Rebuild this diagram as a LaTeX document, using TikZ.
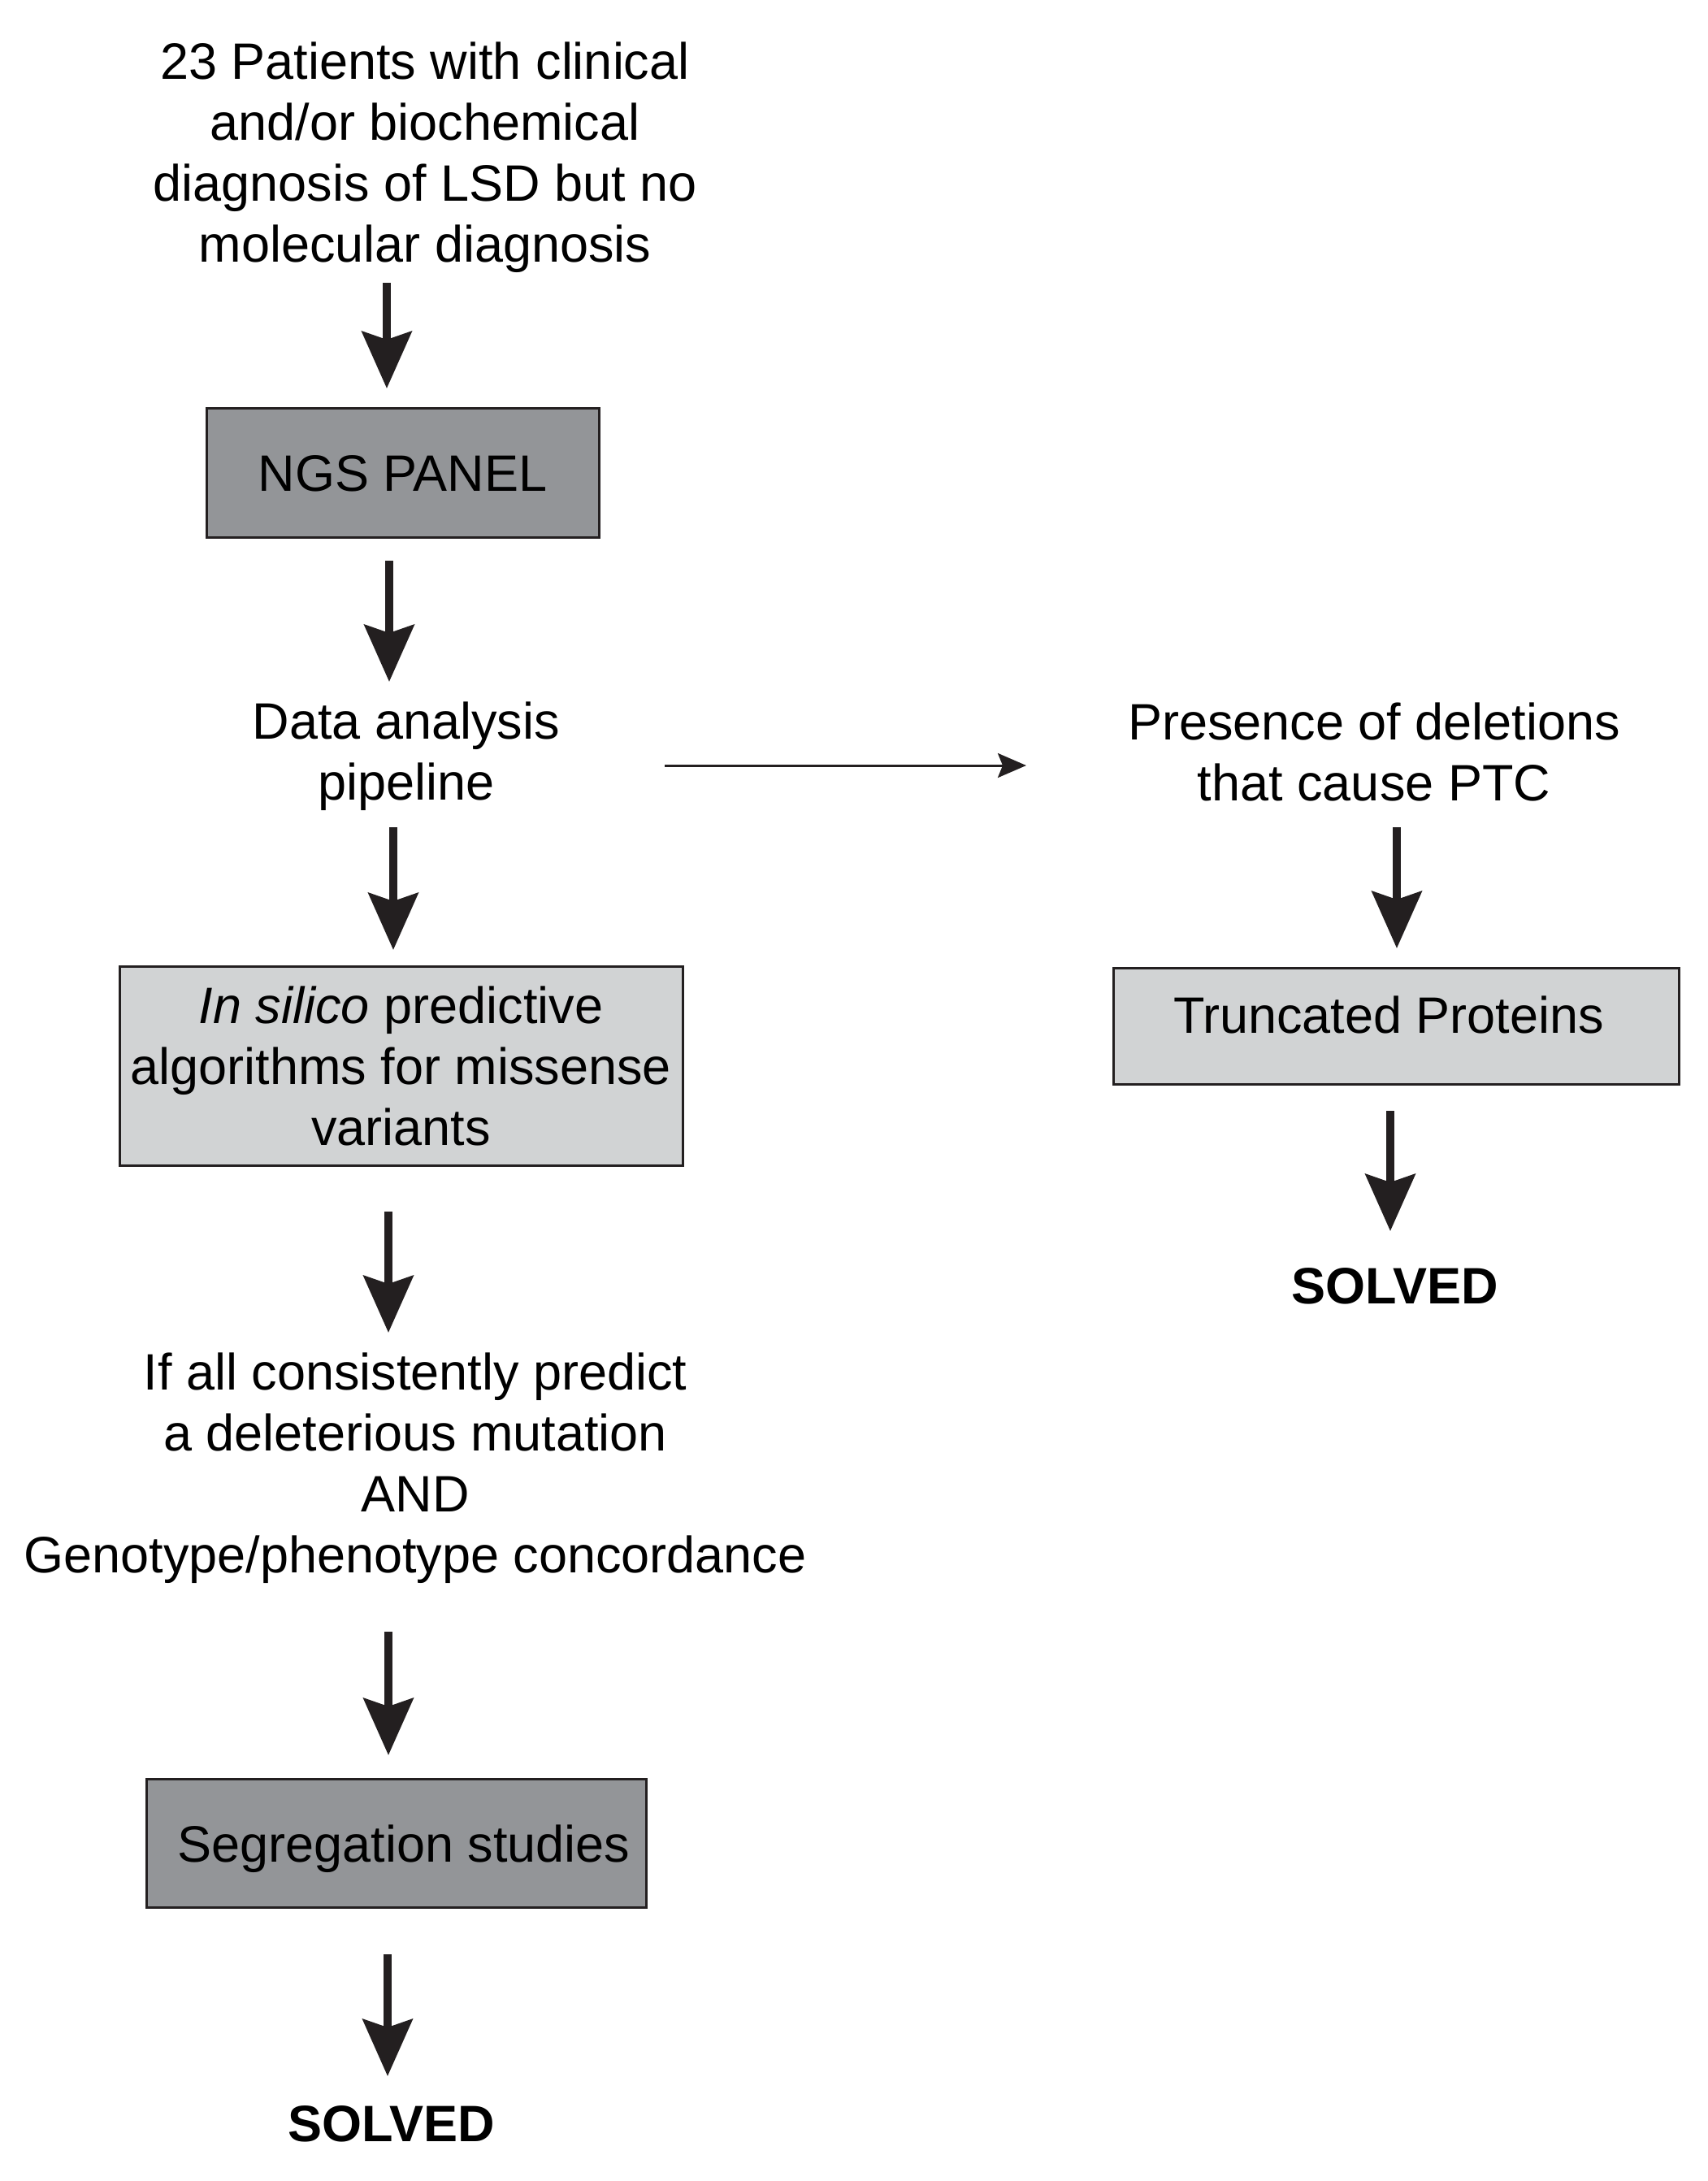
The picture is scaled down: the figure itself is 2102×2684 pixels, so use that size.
\documentclass[tikz,border=0pt]{standalone}
\usepackage{fontspec}
\setmainfont{Liberation Sans}
\usetikzlibrary{arrows.meta}
\definecolor{ink}{HTML}{231F20}
\definecolor{darkfill}{HTML}{939598}
\definecolor{lightfill}{HTML}{D1D3D4}
\begin{document}
\begin{tikzpicture}[x=0.5pt,y=-0.5pt,
  txt/.style={font=\fontsize{31.5pt}{37.5pt}\selectfont, align=center, inner sep=0pt, text=black},
  boxbase/.style={txt, draw=ink, line width=1.5pt, text height=22.5pt, text depth=0pt},
  darkbox/.style={boxbase, fill=darkfill},
  lightbox/.style={boxbase, fill=lightfill},
  solvedtxt/.style={txt, font=\fontsize{31.5pt}{37.5pt}\selectfont\bfseries, text height=22.5pt, text depth=0pt},
  bigarr/.style={draw=ink, line width=5pt, -{Stealth[length=35pt,width=30.5pt,inset=5pt,color=ink]}},
  thinarr/.style={draw=ink, line width=1.5pt, -{Stealth[length=17.5pt,width=15pt,inset=3pt,color=ink]}}]
\useasboundingbox (0,0) rectangle (2102,2684);

% nodes
\node[txt] (top) at (523,193.5) {23 Patients with clinical\\and/or biochemical\\diagnosis of LSD but no\\molecular diagnosis};
\node[darkbox, minimum width=241.5pt, minimum height=79.5pt] (ngs) at (495.5,581.5) {NGS PANEL};
\node[txt] (data) at (500,930.5) {Data analysis\\pipeline};
\node[txt] (pres) at (1691,925) {Presence of deletions\\that cause PTC};
\node[lightbox, minimum width=346.5pt, minimum height=122.5pt, text height=, text depth=] (ins) at (493.5,1311.5) {\textit{In silico} predictive\\algorithms for missense\\variants};
\node[txt] (ifall) at (511,1807) {If all consistently predict\\a deleterious mutation\\AND\\Genotype/phenotype concordance};
\node[darkbox, minimum width=307.5pt, minimum height=79pt] (seg) at (488,2268.5) {\hspace*{9pt}Segregation studies};
\node[solvedtxt] (solvedL) at (482,2613) {SOLVED};
\node[lightbox, minimum width=348pt, minimum height=71.5pt, text depth=14pt] (trunc) at (1718,1262.5) {Truncated Proteins\hspace*{9pt}};
\node[solvedtxt] (solvedR) at (1717,1582) {SOLVED};

% connectors
\draw[bigarr] ([shift={(-47,154.5)}]top.center) -- ([shift={(-19.5,-103.5)}]ngs.center);
\draw[bigarr] ([shift={(-16.5,108.5)}]ngs.center) -- ([shift={(-21,-91.5)}]data.center);
\draw[thinarr] ([shift={(318,11.5)}]data.center) -- ([shift={(-428,17)}]pres.center);
\draw[bigarr] ([shift={(-16,87.5)}]data.center) -- ([shift={(-9.5,-142.5)}]ins.center);
\draw[bigarr] ([shift={(-15.5,179.5)}]ins.center) -- ([shift={(-33,-167)}]ifall.center);
\draw[bigarr] ([shift={(-33,201)}]ifall.center) -- ([shift={(-10,-108.5)}]seg.center);
\draw[bigarr] ([shift={(-11,136.5)}]seg.center) -- ([shift={(-5,-58)}]solvedL.center);
\draw[bigarr] ([shift={(28,93)}]pres.center) -- ([shift={(1,-95.5)}]trunc.center);
\draw[bigarr] ([shift={(-7,104.5)}]trunc.center) -- ([shift={(-6,-67)}]solvedR.center);
\end{tikzpicture}
\end{document}
